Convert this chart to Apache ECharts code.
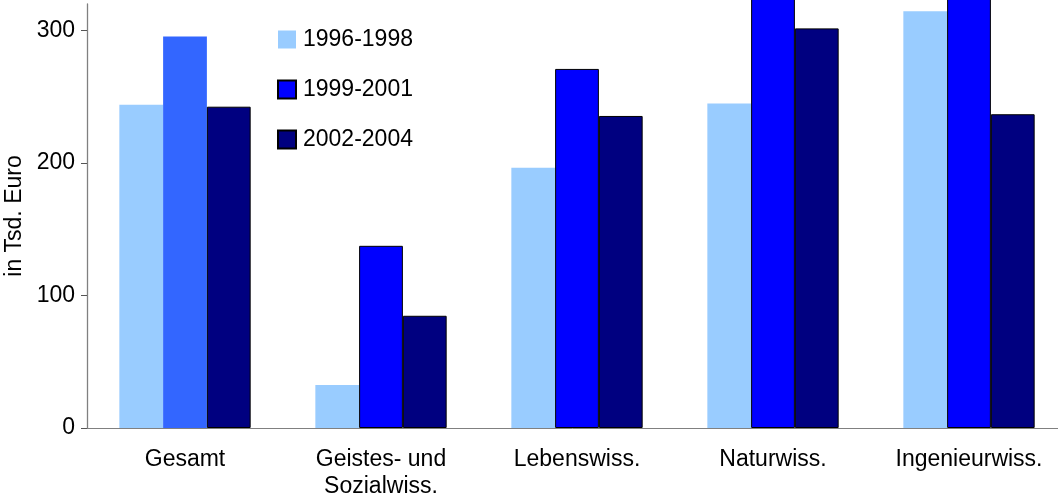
<!DOCTYPE html>
<html>
<head>
<meta charset="utf-8">
<script src="https://cdn.jsdelivr.net/npm/echarts@6/dist/echarts.min.js"></script>
<style>
  html, body { margin: 0; padding: 0; background: #fff; }
  #main { width: 1058px; height: 500px; }
</style>
</head>
<body>
<div id="main"></div>
<script>
var categories = ['Gesamt', 'Geistes- und\nSozialwiss.', 'Lebenswiss.', 'Naturwiss.', 'Ingenieurwiss.'];
var names = ['1996-1998', '1999-2001', '2002-2004'];
var v1996 = [244, 32.5, 196.5, 245, 314.5];
var v1999 = [295.5, 137.5, 271, 340, 340];   // Natur/Ingenieur laufen oben aus dem Bild
var v2002 = [242.5, 84.7, 235.5, 301.6, 236.8];
var yTicks = [0, 100, 200, 300];

var font = 'Liberation Sans, Arial, sans-serif';

// Gesamt-Balken der mittleren Reihe ist heller und ohne Rahmen
var d1999 = v1999.map(function (v, i) {
    if (i === 0) return { value: v, itemStyle: { color: '#3366FF', borderWidth: 0 } };
    return v;
});

option = {
    animation: false,
    textStyle: { fontFamily: font },
    legend: {
        orient: 'vertical',
        left: 277,
        top: 28,
        padding: 0,
        itemWidth: 18,
        itemHeight: 18,
        itemGap: 27,
        icon: 'rect',
        selectedMode: false,
        textStyle: { fontSize: 23, lineHeight: 22, color: '#000', fontFamily: font, padding: [0, 0, 0, 2] },
        data: names
    },
    grid: {
        left: 87,
        top: 4,
        width: 980,
        height: 424,
        outerBoundsMode: 'none'
    },
    xAxis: {
        type: 'category',
        data: categories,
        axisLine: { lineStyle: { color: '#808080', width: 1 } },
        axisTick: { length: 7, lineStyle: { color: '#333' } },
        axisLabel: { interval: 0, margin: 18, fontSize: 23, lineHeight: 27, color: '#000', fontFamily: font }
    },
    yAxis: {
        type: 'value',
        min: 0,
        max: 320,
        interval: 100,
        name: 'in Tsd. Euro',
        nameLocation: 'middle',
        nameGap: 61,
        nameTextStyle: { fontSize: 23, color: '#000', fontFamily: font },
        splitLine: { show: false },
        axisLine: { show: true, lineStyle: { color: '#808080', width: 1.3 } },
        axisTick: { show: true, length: 6, customValues: yTicks, lineStyle: { color: '#555' } },
        axisLabel: { margin: 12, fontSize: 23, color: '#000', fontFamily: font, customValues: yTicks }
    },
    series: [
        {
            name: names[0],
            type: 'bar',
            clip: false,
            barGap: 0,
            barCategoryGap: '33%',
            itemStyle: { color: '#99CCFF' },
            data: v1996
        },
        {
            name: names[1],
            type: 'bar',
            clip: false,
            barGap: 0,
            barCategoryGap: '33%',
            itemStyle: { color: '#0000FF', borderColor: '#000', borderWidth: 1 },
            data: d1999
        },
        {
            name: names[2],
            type: 'bar',
            clip: false,
            barGap: 0,
            barCategoryGap: '33%',
            itemStyle: { color: '#000080', borderColor: '#000', borderWidth: 1 },
            data: v2002
        }
    ]
};

var chart = echarts.init(document.getElementById('main'));
chart.setOption(option);
</script>
</body>
</html>
